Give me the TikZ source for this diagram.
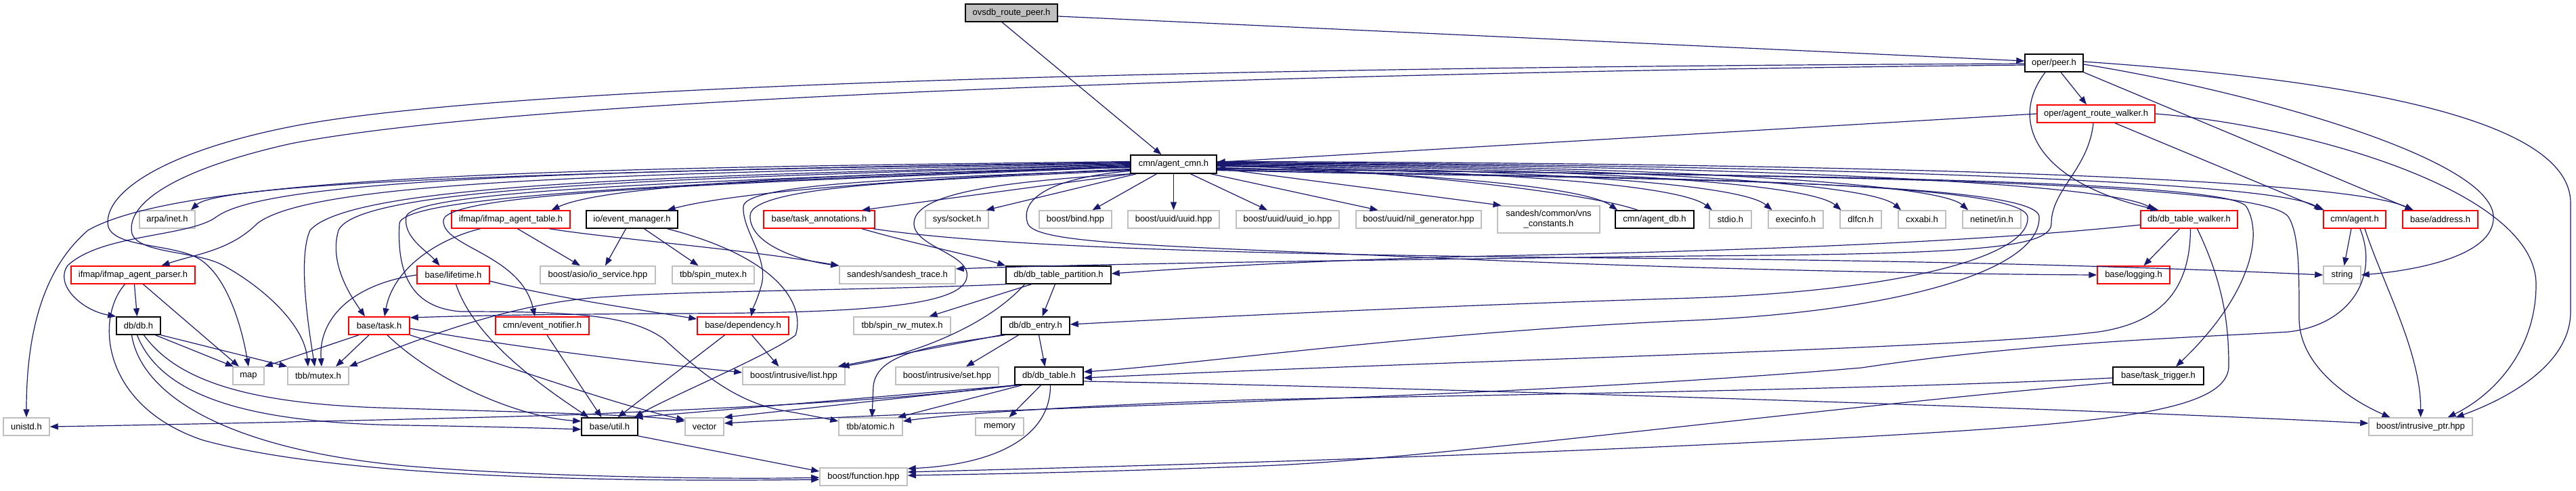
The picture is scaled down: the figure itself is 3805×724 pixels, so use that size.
\documentclass[tikz,border=0pt]{standalone}
\usepackage{fontspec}
\setmainfont{Liberation Sans}
\usetikzlibrary{arrows.meta}
\definecolor{edgec}{HTML}{191970}
\definecolor{extc}{HTML}{BFBFBF}
\definecolor{redc}{HTML}{FF0000}
\definecolor{rootfill}{HTML}{BFBFBF}
\begin{document}
\begin{tikzpicture}[x=1pt,y=-1pt,
  bx/.style={rectangle, inner sep=0pt, minimum height=26pt, line width=1.5pt, fill=white, font=\fontsize{13}{15}\selectfont},
  doc/.style={bx, draw=black},
  tr/.style={bx, draw=redc},
  ext/.style={bx, draw=extc},
  root/.style={bx, draw=black, fill=rootfill},
  ln/.style={draw=edgec, line width=1.2pt, -{Triangle[length=12pt,width=9pt]}}]
\fill[white] (0,0) rectangle (3805,724);
\useasboundingbox (0,0) rectangle (3805,724);
% ---------------- nodes
\node[root, minimum width=136pt] (O) at (1494,19) {ovsdb\_route\_peer.h};
\node[doc, minimum width=86pt] (P) at (3034,93) {oper/peer.h};
\node[tr, minimum width=174pt] (ARW) at (3096,168) {oper/agent\_route\_walker.h};
\node[doc, minimum width=127pt, minimum height=27pt] (ACM) at (1733.5,242.5) {cmn/agent\_cmn.h};
% row 4
\node[ext, minimum width=82pt] (ARPA) at (247,324) {arpa/inet.h};
\node[tr, minimum width=175pt] (IAT) at (754.5,324) {ifmap/ifmap\_agent\_table.h};
\node[doc, minimum width=135pt] (EM) at (933.5,324) {io/event\_manager.h};
\node[tr, minimum width=164pt] (TA) at (1210,324) {base/task\_annotations.h};
\node[ext, minimum width=93pt] (SOCK) at (1413.5,324) {sys/socket.h};
\node[ext, minimum width=107pt] (BIND) at (1588.5,324) {boost/bind.hpp};
\node[ext, minimum width=135pt] (UUID) at (1733.5,324) {boost/uuid/uuid.hpp};
\node[ext, minimum width=152pt] (UUIDIO) at (1902,324) {boost/uuid/uuid\_io.hpp};
\node[ext, minimum width=185pt] (NIL) at (2095.5,324) {boost/uuid/nil\_generator.hpp};
\node[ext, minimum width=151pt, minimum height=40pt, align=center] (VNS) at (2287.5,324) {sandesh/common/vns\\\_constants.h};
\node[doc, minimum width=116pt] (ADB) at (2444,324) {cmn/agent\_db.h};
\node[ext, minimum width=62pt] (STDIO) at (2556,324) {stdio.h};
\node[ext, minimum width=81pt] (EXEC) at (2652.5,324) {execinfo.h};
\node[ext, minimum width=61pt] (DLF) at (2748.5,324) {dlfcn.h};
\node[ext, minimum width=70pt] (CXX) at (2839,324) {cxxabi.h};
\node[ext, minimum width=86pt] (NET) at (2942,324) {netinet/in.h};
\node[tr, minimum width=143pt] (DTW) at (3233.5,324) {db/db\_table\_walker.h};
\node[tr, minimum width=92pt] (AG) at (3478,324) {cmn/agent.h};
\node[tr, minimum width=111pt] (AD) at (3604.5,324) {base/address.h};
% row 5
\node[tr, minimum width=183pt] (IAP) at (196.5,406) {ifmap/ifmap\_agent\_parser.h};
\node[tr, minimum width=107pt] (LT) at (669.5,406) {base/lifetime.h};
\node[ext, minimum width=170pt] (IOS) at (883,406) {boost/asio/io\_service.hpp};
\node[ext, minimum width=121pt] (SPM) at (1053.5,406) {tbb/spin\_mutex.h};
\node[ext, minimum width=171pt] (ST) at (1325.5,406) {sandesh/sandesh\_trace.h};
\node[doc, minimum width=155pt] (DTP) at (1563.5,406) {db/db\_table\_partition.h};
\node[tr, minimum width=107pt] (LOG) at (3151.5,406) {base/logging.h};
\node[ext, minimum width=55pt] (STR) at (3459.5,406) {string};
% row 6
\node[doc, minimum width=65pt] (DB) at (204.5,481) {db/db.h};
\node[tr, minimum width=90pt] (TK) at (560,481) {base/task.h};
\node[tr, minimum width=138pt] (EN) at (801,481) {cmn/event\_notifier.h};
\node[tr, minimum width=135pt] (DP) at (1097.5,481) {base/dependency.h};
\node[ext, minimum width=143pt] (SRW) at (1332.5,481) {tbb/spin\_rw\_mutex.h};
\node[doc, minimum width=101pt] (DE) at (1529.5,481) {db/db\_entry.h};
% row 7
\node[ext, minimum width=46pt] (MAP) at (367,555) {map};
\node[ext, minimum width=90pt] (MTX) at (470,555) {tbb/mutex.h};
\node[ext, minimum width=151pt] (LST) at (1172.5,555) {boost/intrusive/list.hpp};
\node[ext, minimum width=152pt] (SET) at (1399,555) {boost/intrusive/set.hpp};
\node[doc, minimum width=101pt] (DT) at (1549.5,555) {db/db\_table.h};
\node[doc, minimum width=134pt] (TT) at (3188,555) {base/task\_trigger.h};
% row 8
\node[ext, minimum width=68pt] (UNI) at (39,630) {unistd.h};
\node[doc, minimum width=83pt] (UTIL) at (900.5,630) {base/util.h};
\node[ext, minimum width=57pt] (VEC) at (1040.5,630) {vector};
\node[ext, minimum width=94pt] (ATM) at (1286,630) {tbb/atomic.h};
\node[ext, minimum width=71pt] (MEM) at (1476.5,630) {memory};
\node[ext, minimum width=153pt] (IP) at (3575.5,630) {boost/intrusive\_ptr.hpp};
% row 9
\node[ext, minimum width=129pt] (FN) at (1275.5,704) {boost/function.hpp};
% ---------------- edges: top
\draw[ln] ([xshift=-14pt]O.south) -- ([xshift=-18pt]ACM.north);
\draw[ln] ([yshift=-5pt]O.east) -- ([yshift=3pt]P.west);
\draw[ln] ([xshift=10pt]P.south) -- ([xshift=-14pt]ARW.north);
\draw[ln] ([yshift=-1pt]P.west) .. controls (2000,98) and (800,118) .. (440,185) .. controls (230,225) and (150,290) .. (160,335) .. controls (170,365) and (250,360) .. (290,380) .. controls (330,400) and (355,470) .. (MAP.north);
\draw[ln] ([yshift=-3pt]P.west) .. controls (2000,106) and (800,140) .. (430,212) .. controls (260,250) and (185,300) .. (195,345) .. controls (205,375) and (290,370) .. (330,392) .. controls (390,425) and (450,480) .. ([xshift=-15pt]MTX.north);
\draw[ln] ([xshift=-13pt]P.south) .. controls (2965,180) and (3010,270) .. ([xshift=-45pt]DTW.north);
\draw[ln] (P.south east) -- ([xshift=-40pt]AD.north);
\draw[ln] ([yshift=-2pt]P.east) .. controls (3300,130) and (3680,230) .. (3683,320) .. controls (3685,380) and (3560,400) .. (STR.east);
\draw[ln] ([yshift=2pt]P.east) .. controls (3500,120) and (3797,180) .. (3797,300) -- (3797,460) .. controls (3797,540) and (3700,590) .. ([xshift=52pt]IP.north);
% route walker
\draw[ln] (ARW.west) -- ([yshift=3pt]ACM.east);
\draw[ln] ([xshift=28pt]ARW.south) -- ([xshift=-45pt]AG.north);
\draw[ln] (ARW.east) .. controls (3400,185) and (3746,280) .. (3746,420) .. controls (3746,520) and (3680,585) .. ([xshift=40pt]IP.north);
\draw[ln] ([xshift=-4pt]ARW.south) .. controls (3085,250) and (3030,280) .. (3030,330) .. controls (3030,368) and (2900,375) .. (2500,378) .. controls (2000,384) and (1600,390) .. ([yshift=9pt]ST.east);
% agent_db
\draw[ln] ([xshift=-25pt]ADB.north) .. controls (2350,285) and (2050,250) .. ([yshift=-2pt]ACM.east);
% ---------------- agent_cmn to row 4
\draw[ln] ([yshift=2pt]ACM.west) .. controls (1000,250) and (330,265) .. ([xshift=35pt]ARPA.north);
\draw[ln] ([yshift=-5pt]ACM.west) .. controls (1300,255) and (900,270) .. ([xshift=60pt]IAT.north);
\draw[ln] ([yshift=-7pt]ACM.west) .. controls (1400,262) and (1100,280) .. ([xshift=52pt]EM.north);
\draw[ln] ([xshift=-62pt]ACM.south) -- ([xshift=63pt]TA.north);
\draw[ln] ([xshift=-55pt]ACM.south) -- ([xshift=43pt]SOCK.north);
\draw[ln] ([xshift=-25pt]ACM.south) -- ([xshift=25pt]BIND.north);
\draw[ln] (ACM.south) -- (UUID.north);
\draw[ln] ([xshift=25pt]ACM.south) -- ([xshift=-30pt]UUIDIO.north);
\draw[ln] ([xshift=55pt]ACM.south) -- ([xshift=-60pt]NIL.north);
\draw[ln] ([yshift=-6pt]ACM.east) -- ([xshift=-70pt]VNS.north);
\draw[ln] ([yshift=-5pt]ACM.east) .. controls (2100,255) and (2340,275) .. ([xshift=-55pt]ADB.north);
\draw[ln] ([yshift=-3pt]ACM.east) .. controls (2200,252) and (2480,272) .. ([xshift=-27pt]STDIO.north);
\draw[ln] ([yshift=-2pt]ACM.east) .. controls (2250,250) and (2570,270) .. ([xshift=-35pt]EXEC.north);
\draw[ln] ([yshift=-1pt]ACM.east) .. controls (2300,248) and (2670,268) .. ([xshift=-29pt]DLF.north);
\draw[ln] (ACM.east) .. controls (2350,246) and (2760,268) .. ([xshift=-31pt]CXX.north);
\draw[ln] ([yshift=1pt]ACM.east) .. controls (2400,244) and (2860,268) .. ([xshift=-35pt]NET.north);
\draw[ln] ([yshift=2pt]ACM.east) .. controls (2450,243) and (3100,265) .. ([xshift=-50pt]DTW.north);
\draw[ln] ([yshift=3pt]ACM.east) .. controls (2500,242) and (3350,262) .. ([xshift=-48pt]AG.north);
\draw[ln] ([yshift=4pt]ACM.east) .. controls (2600,240) and (3450,258) .. ([xshift=-40pt]AD.north);
% agent_cmn to lower rows
\draw[ln] ([yshift=4pt]ACM.west) .. controls (900,248) and (280,255) .. (130,340) .. controls (60,400) and (39,500) .. (UNI.north);
\draw[ln] ([yshift=3pt]ACM.west) .. controls (900,252) and (400,262) .. (320,320) .. controls (280,350) and (150,345) .. (100,392) .. controls (80,420) and (120,458) .. (DB.north west);
\draw[ln] ([yshift=1pt]ACM.west) .. controls (900,256) and (460,268) .. (380,330) .. controls (340,370) and (290,375) .. ([xshift=42pt]IAP.north);
\draw[ln] (ACM.west) .. controls (1000,260) and (520,270) .. (458,340) .. controls (440,380) and (455,480) .. ([xshift=-5pt]MTX.north);
\draw[ln] ([yshift=-1pt]ACM.west) .. controls (1000,263) and (530,275) .. (500,340) .. controls (485,390) and (520,440) .. ([xshift=-21pt]TK.north);
\draw[ln] ([yshift=-2pt]ACM.west) .. controls (1100,266) and (610,278) .. (600,320) .. controls (595,350) and (630,370) .. ([xshift=-20pt]LT.north);
\draw[ln] ([yshift=-3pt]ACM.west) .. controls (1100,268) and (595,285) .. (590,330) .. controls (585,420) and (620,455) .. (680,460) .. controls (850,460) and (930,465) .. (980,500) .. controls (1030,545) and (1080,590) .. (1150,605) .. controls (1190,612) and (1215,617) .. ([yshift=8pt]ATM.west);
\draw[ln] ([yshift=-4pt]ACM.west) .. controls (1100,270) and (660,283) .. (655,325) .. controls (652,365) and (770,375) .. ([xshift=-11pt]EN.north);
\draw[ln] ([yshift=-8pt]ACM.west) .. controls (1400,262) and (1100,268) .. (1098,305) .. controls (1096,340) and (1135,380) .. (1125,420) .. controls (1118,445) and (1112,455) .. ([xshift=12pt]DP.north);
\draw[ln] ([yshift=-9pt]ACM.west) .. controls (1400,265) and (1110,272) .. (1108,318) .. controls (1106,360) and (1180,385) .. (ST.north west);
\draw[ln] (ACM.south west) .. controls (1480,268) and (1350,285) .. (1350,330) .. controls (1350,365) and (1435,375) .. (1428,410) .. controls (1420,455) and (1250,462) .. (1000,463) .. controls (800,464) and (700,466) .. ([yshift=12pt]TK.east);
\draw[ln] ([yshift=-10pt]ACM.west) .. controls (1560,262) and (1505,290) .. (1518,330) .. controls (1530,360) and (1700,362) .. (2100,380) .. controls (2500,398) and (2900,405) .. (LOG.west);
\draw[ln] ([yshift=-8pt]ACM.east) .. controls (2300,262) and (2985,262) .. (2995,320) .. controls (3000,380) and (2800,430) .. (2500,440) .. controls (2100,452) and (1750,470) .. ([yshift=2pt]DE.east);
\draw[ln] ([yshift=-9pt]ACM.east) .. controls (2300,264) and (3010,262) .. (3012,320) .. controls (3015,400) and (2800,460) .. (2500,473) .. controls (2100,490) and (1750,540) .. ([yshift=6pt]DT.east);
\draw[ln] ([yshift=-6pt]ACM.east) .. controls (2500,258) and (3290,262) .. (3318,305) .. controls (3345,350) and (3320,440) .. ([xshift=26pt]TT.north);
\draw[ln] ([yshift=-7pt]ACM.east) .. controls (2600,258) and (3340,265) .. (3380,320) .. controls (3396,345) and (3396,400) .. (3396,470) .. controls (3396,540) and (3470,590) .. ([xshift=-45pt]IP.north);
% ---------------- row 4 sources
\draw[ln] ([xshift=10pt]IAT.south) -- ([xshift=-26pt]IOS.north);
\draw[ln] ([xshift=57pt]IAT.south) .. controls (900,352) and (1100,368) .. (ST.north west);
\draw[ln] ([xshift=-45pt]IAT.south) .. controls (640,355) and (580,400) .. ([xshift=8pt]TK.north);
\draw[ln] ([xshift=-9pt]EM.south) -- ([xshift=11pt]IOS.north);
\draw[ln] ([xshift=18pt]EM.south) -- ([xshift=-22pt]SPM.north);
\draw[ln] ([xshift=52pt]EM.south) .. controls (1150,380) and (1190,450) .. (1175,495) .. controls (1135,525) and (980,590) .. ([xshift=37pt]UTIL.north);
\draw[ln] ([xshift=63pt]TA.south) .. controls (1350,360) and (1440,378) .. (DTP.north west);
\draw[ln] ([xshift=80pt]TA.south) .. controls (1500,370) and (2000,378) .. (2500,382) .. controls (3000,387) and (3300,400) .. (STR.west);
\draw[ln] ([xshift=-14pt]DTW.south) -- ([xshift=15pt]LOG.north);
\draw[ln] ([yshift=-8pt]DTW.west) .. controls (2900,360) and (2500,372) .. (2200,378) .. controls (1900,385) and (1700,400) .. ([yshift=2pt]DTP.east);
\draw[ln] ([xshift=2pt]DTW.south) .. controls (3235,420) and (3200,475) .. (3100,490) .. controls (2900,515) and (2200,530) .. ([yshift=-3pt]DT.east);
\draw[ln] ([xshift=12pt]DTW.south) .. controls (3285,420) and (3292,480) .. (3292,540) .. controls (3292,610) and (3100,625) .. (2750,645) .. controls (2200,675) and (1600,690) .. ([yshift=7pt]FN.east);
\draw[ln] ([xshift=-5pt]AG.south) -- ([xshift=3pt]STR.north);
\draw[ln] ([xshift=15pt]AG.south) .. controls (3520,420) and (3576,520) .. (IP.north);
\draw[ln] ([xshift=8pt]AG.south) .. controls (3515,410) and (3470,480) .. (3380,490) .. controls (3250,498) and (3000,505) .. (2750,543) .. controls (2200,590) and (1500,600) .. ([yshift=5pt]VEC.east);
% ---------------- row 5 sources
\draw[ln] ([xshift=2pt]IAP.south) -- ([xshift=-2pt]DB.north);
\draw[ln] ([xshift=15pt]IAP.south) -- ([xshift=-14pt]MAP.north);
\draw[ln] ([xshift=-12pt]IAP.south) .. controls (140,470) and (150,600) .. (300,650) .. controls (500,705) and (900,712) .. ([yshift=-4pt]FN.west);
\draw[ln] (LT.west) .. controls (520,420) and (470,470) .. ([xshift=5pt]MTX.north);
\draw[ln] ([xshift=4pt]LT.south) .. controls (700,500) and (800,570) .. ([xshift=-31pt]UTIL.north);
\draw[ln] ([yshift=-9pt]LT.east) .. controls (820,440) and (950,458) .. ([yshift=10pt]DP.west);
\draw[ln] ([xshift=-40pt]DTP.south) -- ([xshift=40pt]SRW.north);
\draw[ln] ([xshift=-5pt]DTP.south) -- ([xshift=10pt]DE.north);
\draw[ln] ([xshift=-50pt]DTP.south) .. controls (1460,480) and (1350,525) .. ([xshift=70pt]LST.north);
\draw[ln] (DTP.south west) .. controls (1300,428) and (1000,430) .. (900,438) .. controls (760,445) and (620,500) .. (MTX.north east);
% ---------------- row 6 sources
\draw[ln] ([xshift=25pt]DB.south) -- ([xshift=-22pt]MAP.north);
\draw[ln] (DB.south east) -- (MTX.north west);
\draw[ln] ([xshift=-2pt]DB.south) .. controls (240,590) and (380,625) .. (600,628) .. controls (720,630) and (800,632) .. ([yshift=-4pt]UTIL.west);
\draw[ln] ([xshift=8pt]DB.south) .. controls (260,560) and (360,595) .. (560,602) .. controls (750,608) and (950,612) .. ([yshift=8pt]VEC.west);
\draw[ln] ([xshift=-10pt]DB.south) .. controls (210,590) and (350,665) .. (600,688) .. controls (800,705) and (1100,708) .. ([yshift=-1pt]FN.west);
\draw[ln] ([xshift=-30pt]TK.south) -- (MAP.north east);
\draw[ln] ([xshift=-15pt]TK.south) -- ([xshift=26pt]MTX.north);
\draw[ln] ([xshift=12pt]TK.south) .. controls (640,560) and (760,615) .. ([yshift=8pt]UTIL.west);
\draw[ln] (TK.south east) .. controls (750,540) and (900,595) .. ([yshift=10pt]VEC.west);
\draw[ln] ([yshift=-4pt]TK.east) .. controls (800,520) and (1000,540) .. ([yshift=5pt]LST.west);
\draw[ln] ([xshift=7pt]EN.south) -- ([xshift=-12pt]UTIL.north);
\draw[ln] ([xshift=-27pt]DP.south) -- ([xshift=12pt]UTIL.north);
\draw[ln] ([xshift=13pt]DP.south) -- ([xshift=-22pt]LST.north);
\draw[ln] ([xshift=5pt]DE.south) -- ([xshift=-6pt]DT.north);
\draw[ln] (DE.south west) -- ([xshift=65pt]LST.north);
\draw[ln] ([xshift=-25pt]DE.south) -- ([xshift=28pt]SET.north);
\draw[ln] ([xshift=-45pt]DE.south) .. controls (1380,510) and (1295,520) .. (1290,570) -- ([xshift=2pt]ATM.north);
% ---------------- row 7 sources
\draw[ln] ([xshift=-12pt]DT.south) -- ([xshift=14pt]MEM.north);
\draw[ln] ([xshift=-40pt]DT.south) -- ([xshift=40pt]ATM.north);
\draw[ln] ([xshift=-45pt]DT.south) -- (VEC.north east);
\draw[ln] ([xshift=-48pt]DT.south) -- ([xshift=37pt]UTIL.north);
\draw[ln] (DT.south west) .. controls (1300,595) and (1000,605) .. (860,612) .. controls (600,620) and (200,628) .. (UNI.east);
\draw[ln] ([xshift=2pt]DT.south) .. controls (1552,640) and (1480,685) .. ([yshift=12pt]FN.east);
\draw[ln] ([yshift=-8pt]DT.east) .. controls (2000,570) and (3000,600) .. ([yshift=5pt]IP.west);
\draw[ln] ([yshift=-3pt]TT.west) .. controls (2800,575) and (2100,585) .. (1860,590) .. controls (1600,598) and (1400,612) .. ([yshift=8pt]ATM.east);
\draw[ln] ([yshift=-10pt]TT.west) .. controls (2700,600) and (2100,680) .. (1860,688) .. controls (1600,698) and (1450,700) .. ([yshift=2pt]FN.east);
% ---------------- row 8 sources
\draw[ln] (UTIL.south east) -- ([yshift=8pt]FN.west);
\end{tikzpicture}
\end{document}
